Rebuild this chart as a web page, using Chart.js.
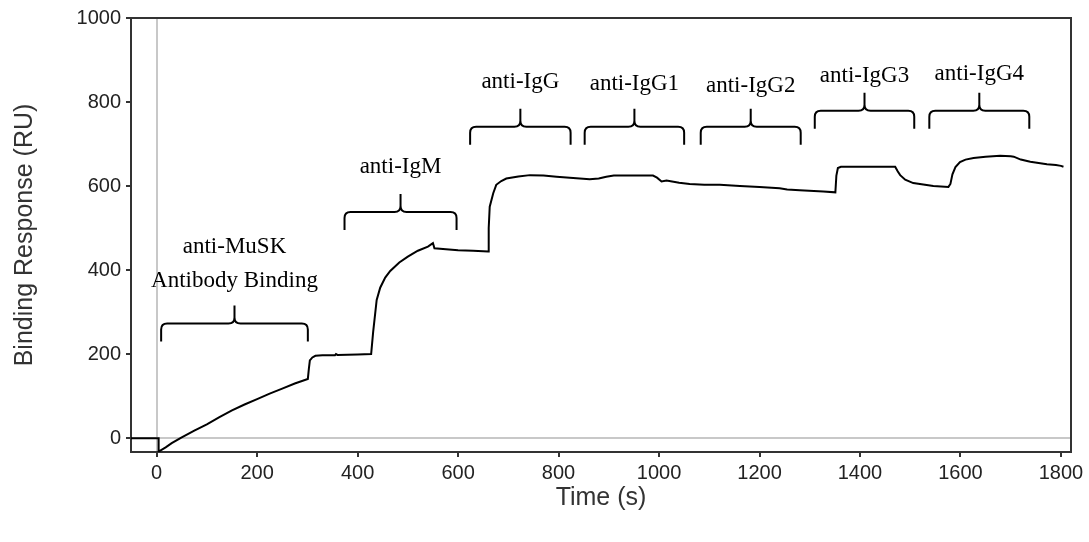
<!DOCTYPE html>
<html>
<head>
<meta charset="utf-8">
<script src="https://cdn.jsdelivr.net/npm/chart.js@4"></script>
<style>
    html, body { margin: 0; padding: 0; background: #ffffff; }
    #wrap { width: 1089px; height: 542px; }
</style>
</head>
<body>
<div id="wrap"><canvas id="spr-chart" width="1089" height="542"></canvas></div>
<script>
// sensorgram trace (time in s, response in RU)
const times = [-51, 4, 4, 18, 30, 50, 75, 100, 125, 150, 175, 200, 225, 250, 275, 301, 303, 305, 310, 316,
    330, 355, 357, 360, 400, 427, 431, 438, 445, 455, 465, 483, 500, 520, 540, 550, 553, 570, 600, 630,
    660, 661, 663, 670, 676, 686, 696, 720, 743, 770, 796, 829, 862, 880, 895, 910, 950, 988, 996, 1005,
    1015, 1040, 1061, 1090, 1121, 1161, 1200, 1240, 1255, 1280, 1327, 1351, 1353, 1356, 1362, 1470, 1475, 1480, 1490, 1506,
    1546, 1576, 1580, 1584, 1590, 1599, 1610, 1626, 1650, 1679, 1700, 1706, 1720, 1739, 1772, 1790, 1800, 1805];
const response = [0, 0, -32, -22, -12, 2, 18, 33, 50, 66, 80, 93, 106, 118, 130, 141, 165, 185, 192, 196,
    197, 197, 200, 198, 199, 200, 253, 329, 358, 382, 398, 418, 432, 446, 456, 464, 452, 450, 447, 446,
    444, 500, 551, 583, 603, 612, 618, 623, 626, 625, 622, 619, 616, 618, 622, 625, 625, 625, 620, 611,
    613, 608, 605, 603, 603, 600, 598, 595, 592, 590, 587, 585, 625, 643, 646, 646, 635, 626, 615, 607,
    600, 598, 605, 628, 645, 657, 663, 667, 670, 672, 671, 670, 663, 658, 652, 650, 648, 646];

// injection steps marked with braces
const stepLabels = [["anti-MuSK", "Antibody Binding"], ["anti-IgM"], ["anti-IgG"], ["anti-IgG1"], ["anti-IgG2"], ["anti-IgG3"], ["anti-IgG4"]];
const stepStart = [9, 374, 624, 852, 1083, 1310, 1538];
const stepEnd = [301, 597, 824, 1050, 1282, 1508, 1737];
const braceLevel = [273, 538, 741, 741, 741, 779, 779];
const labelLevel = [454, 645, 848, 842, 838, 862, 866];

const xTicks = [0, 200, 400, 600, 800, 1000, 1200, 1400, 1600, 1800];
const yTicks = [0, 200, 400, 600, 800, 1000];

const axisColor = "#333333";
const zeroLineColor = "#c8c8c8";
const sans = "'Liberation Sans', Arial, sans-serif";

const points = times.map((t, i) => ({ x: t, y: response[i] }));

// top + right frame lines
const frame = {
    id: "frame",
    afterDraw(chart) {
        const { ctx, chartArea: a } = chart;
        ctx.save();
        ctx.strokeStyle = axisColor;
        ctx.lineWidth = 2;
        ctx.beginPath();
        ctx.moveTo(a.left, a.top);
        ctx.lineTo(a.right, a.top);
        ctx.lineTo(a.right, a.bottom);
        ctx.stroke();
        ctx.restore();
    },
};

// curly braces and their labels
const braces = {
    id: "braces",
    afterDatasetsDraw(chart) {
        const { ctx } = chart;
        const xs = chart.scales.x;
        const ys = chart.scales.y;
        const hook = 18, r = 6;
        ctx.save();
        ctx.strokeStyle = "#000";
        ctx.lineWidth = 2;
        ctx.fillStyle = "#000";
        ctx.font = "23px 'Liberation Serif', 'Times New Roman', serif";
        ctx.textAlign = "center";
        ctx.textBaseline = "middle";
        stepLabels.forEach((lines, i) => {
            const x0 = xs.getPixelForValue(stepStart[i]);
            const x1 = xs.getPixelForValue(stepEnd[i]);
            const xm = (x0 + x1) / 2;
            const y = ys.getPixelForValue(braceLevel[i]);
            ctx.beginPath();
            ctx.moveTo(x0, y + hook);
            ctx.lineTo(x0, y + r);
            ctx.quadraticCurveTo(x0, y, x0 + r, y);
            ctx.lineTo(xm - r, y);
            ctx.quadraticCurveTo(xm, y, xm, y - r);
            ctx.lineTo(xm, y - hook);
            ctx.moveTo(xm, y - r);
            ctx.quadraticCurveTo(xm, y, xm + r, y);
            ctx.lineTo(x1 - r, y);
            ctx.quadraticCurveTo(x1, y, x1, y + r);
            ctx.lineTo(x1, y + hook);
            ctx.stroke();
            const ly = ys.getPixelForValue(labelLevel[i]);
            lines.forEach((txt, k) => {
                ctx.fillText(txt, xm, ly + k * 34);
            });
        });
        ctx.restore();
    },
};

const zeroGrid = (c) => (c.tick && c.tick.value === 0 ? zeroLineColor : "rgba(0,0,0,0)");

new Chart(document.getElementById("spr-chart"), {
    type: "line",
    data: {
        datasets: [
            {
                label: "Binding Response",
                data: points,
                borderColor: "#000000",
                borderWidth: 2,
                pointRadius: 0,
                tension: 0,
                fill: false,
            },
        ],
    },
    options: {
        responsive: false,
        animation: false,
        layout: { padding: { top: 18, right: 18, left: 0, bottom: 0 } },
        plugins: {
            legend: { display: false },
            tooltip: { enabled: false },
        },
        scales: {
            x: {
                type: "linear",
                min: -51,
                max: 1820,
                afterFit: (s) => { s.height = 90; },
                afterBuildTicks: (s) => { s.ticks = xTicks.map((v) => ({ value: v })); },
                ticks: {
                    font: { family: sans, size: 20 },
                    color: "#222",
                    padding: 4,
                    maxRotation: 0,
                    callback: (v) => String(v),
                },
                grid: {
                    color: zeroGrid,
                    lineWidth: 2,
                    drawTicks: true,
                    tickColor: axisColor,
                    tickLength: 5,
                    tickWidth: 2,
                },
                border: { display: true, color: axisColor, width: 2 },
                title: {
                    display: true,
                    text: "Time (s)",
                    font: { family: sans, size: 25 },
                    color: "#333",
                    padding: { top: 0, bottom: 29 },
                },
            },
            y: {
                min: -33,
                max: 1000,
                afterFit: (s) => { s.width = 131; },
                afterBuildTicks: (s) => { s.ticks = yTicks.map((v) => ({ value: v })); },
                ticks: {
                    font: { family: sans, size: 20 },
                    color: "#222",
                    padding: 5,
                    callback: (v) => String(v),
                },
                grid: {
                    color: zeroGrid,
                    lineWidth: 2,
                    drawTicks: true,
                    tickColor: axisColor,
                    tickLength: 5,
                    tickWidth: 2,
                },
                border: { display: true, color: axisColor, width: 2 },
                title: {
                    display: true,
                    text: "Binding Response (RU)",
                    font: { family: sans, size: 25 },
                    color: "#333",
                    padding: { top: 10, bottom: 0 },
                },
            },
        },
    },
    plugins: [frame, braces],
});
</script>
</body>
</html>
